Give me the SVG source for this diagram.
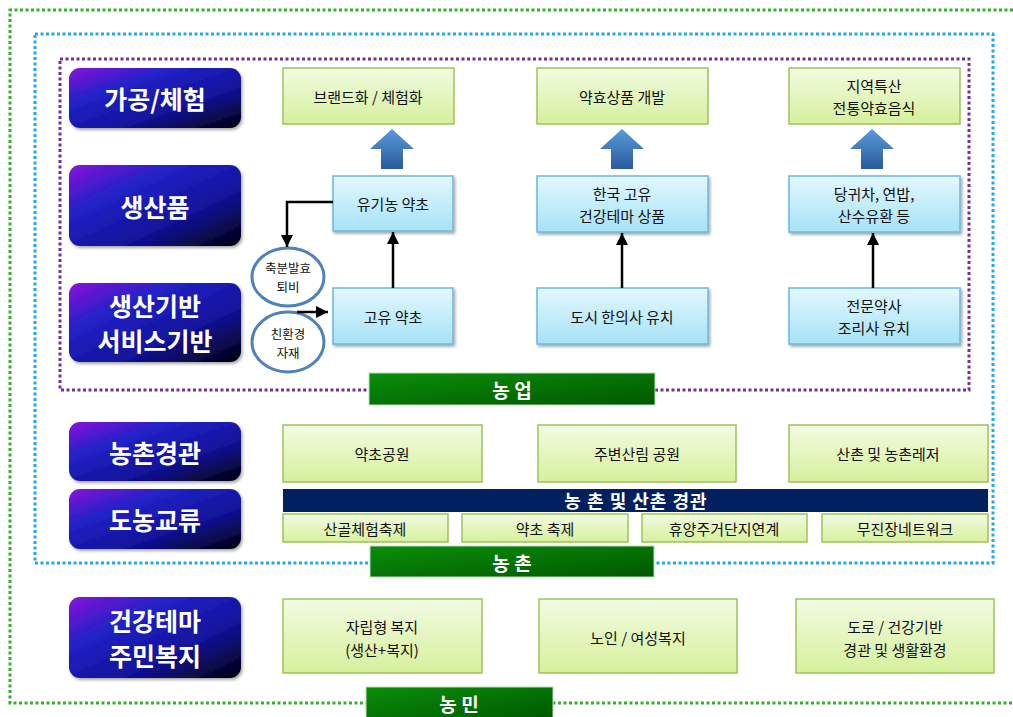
<svg xmlns="http://www.w3.org/2000/svg" width="1013" height="717" viewBox="0 0 1013 717">
<defs>
<linearGradient id="lbl" x1="0" y1="0" x2="1" y2="1">
<stop offset="0" stop-color="#8a10d8"/>
<stop offset="0.3" stop-color="#2222c8"/>
<stop offset="0.65" stop-color="#12129a"/>
<stop offset="1" stop-color="#00000a"/>
</linearGradient>
<linearGradient id="grn" x1="0" y1="0" x2="0" y2="1">
<stop offset="0" stop-color="#f2fbe2"/>
<stop offset="1" stop-color="#d6f09c"/>
</linearGradient>
<linearGradient id="blu" x1="0" y1="0" x2="0" y2="1">
<stop offset="0" stop-color="#e2f8ff"/>
<stop offset="1" stop-color="#a6e2f6"/>
</linearGradient>
<linearGradient id="bar" x1="0" y1="0" x2="1" y2="1">
<stop offset="0" stop-color="#0a8e0a"/>
<stop offset="1" stop-color="#005800"/>
</linearGradient>
<linearGradient id="big" x1="0" y1="0" x2="0" y2="1">
<stop offset="0" stop-color="#5a9ad8"/>
<stop offset="1" stop-color="#2a5a9c"/>
</linearGradient>
<filter id="sh" x="-10%" y="-10%" width="130%" height="140%">
<feDropShadow dx="1.5" dy="2" stdDeviation="1.5" flood-color="#000" flood-opacity="0.35"/>
</filter>
<marker id="arr" viewBox="0 0 10 10" refX="10" refY="5" markerWidth="12" markerHeight="12" orient="auto" markerUnits="userSpaceOnUse">
<path d="M0,0 L10,5 L0,10 z" fill="#000"/>
</marker>
<style>
.lbl{fill:url(#lbl);filter:url(#sh)}
.lt{font-family:"Noto Sans CJK KR","Noto Sans",sans-serif;font-weight:bold;font-size:25px;fill:#fff;text-anchor:middle;dominant-baseline:central}
.gb{fill:url(#grn);stroke:#9dc35a;stroke-width:1.5}
.bb{fill:url(#blu);stroke:#6cb8dc;stroke-width:1.5;filter:url(#sh)}
.t{font-family:"Noto Sans CJK KR","Noto Sans",sans-serif;font-size:15px;fill:#111;text-anchor:middle;dominant-baseline:central}
.st{font-family:"Noto Sans CJK KR","Noto Sans",sans-serif;font-size:12.5px;fill:#111;text-anchor:middle;dominant-baseline:central}
.bar{fill:url(#bar);stroke:#b8e0b8;stroke-width:1}
.bt{font-family:"Noto Sans CJK KR","Noto Sans",sans-serif;font-weight:bold;font-size:19px;fill:#fff;text-anchor:middle;dominant-baseline:central}
.el{fill:#fff;stroke:#4f81bd;stroke-width:3}
.big{fill:url(#big)}
.ln{stroke:#000;stroke-width:2.5;fill:none;marker-end:url(#arr)}
</style>
</defs>
<rect width="1013" height="717" fill="#fff"/>

<g id="borders" fill="none" stroke-width="3">
<path d="M1013,10 H10 V703 H1013" stroke="#32b02a" stroke-dasharray="3 2.5"/>
<rect x="35" y="34" width="958" height="529" stroke="#1eaaf0" stroke-dasharray="3 2.5"/>
<rect x="60" y="59" width="909" height="331" stroke="#7030a0" stroke-dasharray="3 2.5"/>
</g>

<g id="label-gagong"><rect class="lbl" x="69" y="68" width="172" height="60" rx="11"/><text class="lt" x="155" y="98">가공/체험</text></g>
<g id="label-saengsanpum"><rect class="lbl" x="69" y="165" width="172" height="81" rx="11"/><text class="lt" x="155" y="206">생산품</text></g>
<g id="label-giban"><rect class="lbl" x="69" y="283" width="172" height="79" rx="11"/><text class="lt" x="155" y="305">생산기반</text><text class="lt" x="155" y="340">서비스기반</text></g>
<g id="label-gyeonggwan"><rect class="lbl" x="69" y="422" width="172" height="59" rx="11"/><text class="lt" x="155" y="452">농촌경관</text></g>
<g id="label-gyoryu"><rect class="lbl" x="69" y="489" width="172" height="60" rx="11"/><text class="lt" x="155" y="519">도농교류</text></g>
<g id="label-bokji"><rect class="lbl" x="69" y="597" width="172" height="81" rx="11"/><text class="lt" x="155" y="620">건강테마</text><text class="lt" x="155" y="655">주민복지</text></g>

<g id="n-brand"><rect class="gb" x="283" y="68" width="171" height="56"/><text class="t" x="368" y="96">브랜드화 / 체험화</text></g>
<g id="n-yakhyo"><rect class="gb" x="537" y="68" width="171" height="56"/><text class="t" x="622" y="96">약효상품 개발</text></g>
<g id="n-jiyeok"><rect class="gb" x="789" y="68" width="171" height="56"/><text class="t" x="874" y="85">지역특산</text><text class="t" x="874" y="107">전통약효음식</text></g>

<g id="n-yugi"><rect class="bb" x="333" y="176" width="120" height="55"/><text class="t" x="393" y="203">유기농 약초</text></g>
<g id="n-hanguk"><rect class="bb" x="537" y="176" width="171" height="56"/><text class="t" x="622" y="193">한국 고유</text><text class="t" x="622" y="215">건강테마 상품</text></g>
<g id="n-danggwi"><rect class="bb" x="789" y="176" width="171" height="56"/><text class="t" x="874" y="193">당귀차, 연밥,</text><text class="t" x="874" y="215">산수유환 등</text></g>

<g id="n-goyu"><rect class="bb" x="333" y="288" width="120" height="56"/><text class="t" x="393" y="316">고유 약초</text></g>
<g id="n-dosi"><rect class="bb" x="537" y="288" width="171" height="56"/><text class="t" x="622" y="316">도시 한의사 유치</text></g>
<g id="n-jeonmun"><rect class="bb" x="789" y="288" width="171" height="56"/><text class="t" x="874" y="305">전문약사</text><text class="t" x="874" y="327">조리사 유치</text></g>

<g id="n-chukbun"><ellipse class="el" cx="288" cy="277" rx="36" ry="29"/><text class="st" x="288" y="267">축분발효</text><text class="st" x="288" y="286">퇴비</text></g>
<g id="n-chinhwan"><ellipse class="el" cx="288" cy="342" rx="36" ry="30"/><text class="st" x="288" y="333">친환경</text><text class="st" x="288" y="352">자재</text></g>

<g id="connectors">
<polygon class="big" points="392,129 414,149 403,149 403,169 381,169 381,149 370,149"/>
<polygon class="big" points="622,129 644,149 633,149 633,169 611,169 611,149 600,149"/>
<polygon class="big" points="872,129 894,149 883,149 883,169 861,169 861,149 850,149"/>
<line class="ln" x1="393" y1="288" x2="393" y2="232"/>
<line class="ln" x1="622" y1="288" x2="622" y2="233"/>
<line class="ln" x1="873" y1="288" x2="873" y2="233"/>
<path class="ln" d="M333,202 H287 V247"/>
<line class="ln" x1="297" y1="312" x2="328" y2="312"/>
</g>

<g id="bar-nongeop"><rect class="bar" x="369" y="373" width="286" height="32"/><text class="bt" x="512" y="389">농 업</text></g>

<g id="n-yakchogongwon"><rect class="gb" x="283" y="425" width="199" height="57"/><text class="t" x="382" y="453">약초공원</text></g>
<g id="n-jubyeon"><rect class="gb" x="538" y="425" width="198" height="57"/><text class="t" x="637" y="453">주변산림 공원</text></g>
<g id="n-sanchon"><rect class="gb" x="789" y="425" width="199" height="57"/><text class="t" x="888" y="453">산촌 및 농촌레저</text></g>

<g id="bar-gyeonggwan"><rect x="283" y="489" width="705" height="23" fill="#002060"/><text class="bt" x="636" y="500" style="font-size:18px" letter-spacing="1">농 촌 및 산촌 경관</text></g>

<g id="n-sangol"><rect class="gb" x="283" y="514" width="165" height="28"/><text class="t" x="365" y="528">산골체험축제</text></g>
<g id="n-yakchochukje"><rect class="gb" x="462" y="514" width="166" height="28"/><text class="t" x="545" y="528">약초 축제</text></g>
<g id="n-hyuyang"><rect class="gb" x="642" y="514" width="165" height="28"/><text class="t" x="724" y="528">휴양주거단지연계</text></g>
<g id="n-mujin"><rect class="gb" x="822" y="514" width="166" height="28"/><text class="t" x="905" y="528">무진장네트워크</text></g>

<g id="bar-nongchon"><rect class="bar" x="370" y="546" width="284" height="31"/><text class="bt" x="512" y="562">농 촌</text></g>

<g id="n-jarip"><rect class="gb" x="283" y="599" width="199" height="74"/><text class="t" x="382" y="626">자립형 복지</text><text class="t" x="382" y="649">(생산+복지)</text></g>
<g id="n-noin"><rect class="gb" x="539" y="599" width="198" height="74"/><text class="t" x="638" y="637">노인 / 여성복지</text></g>
<g id="n-doro"><rect class="gb" x="796" y="599" width="198" height="74"/><text class="t" x="895" y="626">도로 / 건강기반</text><text class="t" x="895" y="649">경관 및 생활환경</text></g>

<g id="bar-nongmin"><rect class="bar" x="366" y="687" width="187" height="32"/><text class="bt" x="459" y="703">농 민</text></g>
</svg>
